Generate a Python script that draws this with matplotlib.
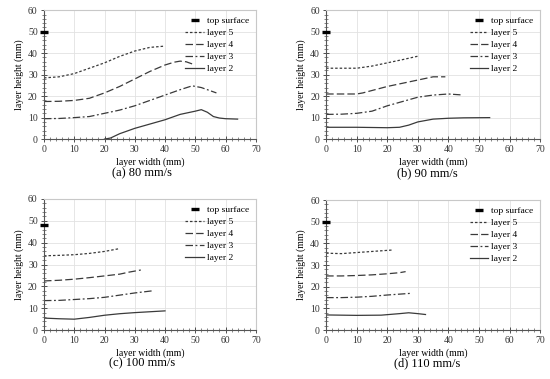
import matplotlib.pyplot as plt
from matplotlib.ticker import MultipleLocator

plt.rcParams['font.family'] = ['Liberation Serif', 'DejaVu Serif']

captions = ['(a) 80 mm/s', '(b) 90 mm/s', '(c) 100 mm/s', '(d) 110 mm/s']
top_surface = [50, 50, 48, 50]

# (a) 80 mm/s
a_l5_x = [0, 5, 10, 15, 20, 25, 30, 35, 40]
a_l5_y = [28.5, 29, 30.5, 33, 35.5, 38.5, 41, 42.7, 43.3]
a_l4_x = [0, 5, 10, 15, 20, 25, 30, 35, 40, 43, 45, 47, 49]
a_l4_y = [17.5, 17.6, 18, 19, 21.5, 24.5, 28, 31.5, 34.5, 35.8, 36.3, 36, 35]
a_l3_x = [0, 5, 10, 15, 20, 25, 30, 35, 40, 45, 49, 52, 55, 57]
a_l3_y = [9.5, 9.6, 10, 10.5, 12, 13.5, 15.5, 18, 20.5, 23, 24.8, 24, 22.5, 21.5]
a_l2_x = [20, 22, 25, 28, 30, 35, 40, 45, 50, 52, 54, 56, 58, 60, 64]
a_l2_y = [0, 0.5, 2.5, 4, 5, 7, 9, 11.5, 13, 13.7, 12.5, 10.5, 9.8, 9.5, 9.3]

# (b) 90 mm/s
b_l5_x = [0, 5, 10, 15, 20, 25, 30]
b_l5_y = [33, 33, 33, 34, 35.5, 37, 38.6]
b_l4_x = [0, 5, 10, 12, 16, 20, 25, 30, 35, 39]
b_l4_y = [21, 21, 21, 21.5, 23, 24.5, 26, 27.5, 29, 29]
b_l3_x = [0, 5, 10, 15, 20, 25, 30, 35, 40, 44]
b_l3_y = [11.5, 11.6, 12, 13, 15.5, 17.5, 19.5, 20.5, 21, 20.6]
b_l2_x = [0, 10, 20, 24, 27, 30, 35, 40, 45, 53.5]
b_l2_y = [5.5, 5.5, 5.3, 5.5, 6.5, 8, 9.3, 9.7, 9.9, 10]

# (c) 100 mm/s
c_l5_x = [0, 5, 10, 15, 20, 25]
c_l5_y = [34, 34.2, 34.5, 35.1, 36, 37.3]
c_l4_x = [0, 5, 10, 15, 20, 25, 28, 32]
c_l4_y = [22.5, 22.8, 23.3, 24, 24.8, 25.6, 26.5, 27.5]
c_l3_x = [0, 5, 10, 15, 20, 25, 30, 36]
c_l3_y = [13.5, 13.6, 14, 14.4, 15, 16, 17, 18]
c_l2_x = [0, 5, 10, 15, 20, 25, 30, 35, 40]
c_l2_y = [5.5, 5.2, 5, 5.8, 6.8, 7.5, 8, 8.4, 8.8]

# (d) 110 mm/s
d_l5_x = [0, 5, 10, 15, 22]
d_l5_y = [35.5, 35.3, 35.8, 36.3, 37]
d_l4_x = [0, 5, 10, 15, 20, 24, 26]
d_l4_y = [25, 25, 25.2, 25.5, 26, 26.5, 27]
d_l3_x = [0, 5, 10, 15, 20, 24, 28]
d_l3_y = [15, 15, 15.2, 15.6, 16.2, 16.6, 17]
d_l2_x = [0, 5, 10, 18, 24, 27, 30, 32.5]
d_l2_y = [7, 6.9, 6.8, 6.9, 7.6, 8, 7.6, 7.2]

panels = [
    [(a_l5_x, a_l5_y), (a_l4_x, a_l4_y), (a_l3_x, a_l3_y), (a_l2_x, a_l2_y)],
    [(b_l5_x, b_l5_y), (b_l4_x, b_l4_y), (b_l3_x, b_l3_y), (b_l2_x, b_l2_y)],
    [(c_l5_x, c_l5_y), (c_l4_x, c_l4_y), (c_l3_x, c_l3_y), (c_l2_x, c_l2_y)],
    [(d_l5_x, d_l5_y), (d_l4_x, d_l4_y), (d_l3_x, d_l3_y), (d_l2_x, d_l2_y)],
]
labels = ['layer 5', 'layer 4', 'layer 3', 'layer 2']
styles = [(0, (2, 1.6)), (0, (6, 2.5)), (0, (6, 2, 1.5, 2)), '-']

fig = plt.figure(figsize=(5.5, 3.79), dpi=100)
positions = [
    [0.080, 0.633, 0.385, 0.340],
    [0.593, 0.633, 0.389, 0.340],
    [0.080, 0.129, 0.385, 0.346],
    [0.593, 0.129, 0.389, 0.343],
]
# caption centres in pixels (x, y from top)
caption_pos = [(142, 173), (427, 173), (142, 363), (427, 363)]
line_color = '#3a3a3a'

for i, pos in enumerate(positions):
    ax = fig.add_axes(pos)
    ax.plot([0], [top_surface[i]], marker='_', markersize=6, markeredgewidth=2.4,
            color='black', linestyle='none', label='top surface', clip_on=False, zorder=5)
    for (x, y), lab, ls in zip(panels[i], labels, styles):
        ax.plot(x, y, color=line_color, linestyle=ls, linewidth=0.9, label=lab)
    ax.set_xlim(0, 70)
    ax.set_ylim(0, 60)
    ax.xaxis.set_major_locator(MultipleLocator(10))
    ax.yaxis.set_major_locator(MultipleLocator(10))
    ax.xaxis.set_minor_locator(MultipleLocator(2))
    ax.yaxis.set_minor_locator(MultipleLocator(2))
    ax.grid(True, which='major', color='#e2e2e2', linewidth=0.6)
    ax.set_axisbelow(True)
    for side in ['top', 'right']:
        ax.spines[side].set_color('#c8c8c8')
    for side in ['left', 'bottom']:
        ax.spines[side].set_color('#555555')
        ax.spines[side].set_linewidth(0.8)
    ax.tick_params(which='major', direction='inout', length=5, width=0.6,
                   labelsize=7, pad=2, colors='#333333')
    ax.tick_params(which='minor', direction='inout', length=3, width=0.5, colors='#555555')
    ax.set_xlabel('layer width (mm)', fontsize=7, labelpad=2)
    ax.set_ylabel('layer height (mm)', fontsize=7, labelpad=3)
    ax.legend(loc='upper right', frameon=False, fontsize=6.8, handlelength=2.0,
              handletextpad=0.3, labelspacing=0.35, borderaxespad=0.3)
    cx, cy = caption_pos[i]
    fig.text(cx / 550, 1 - cy / 379, captions[i], ha='center', va='center', fontsize=9)

fig.savefig('out.png', dpi=100)
